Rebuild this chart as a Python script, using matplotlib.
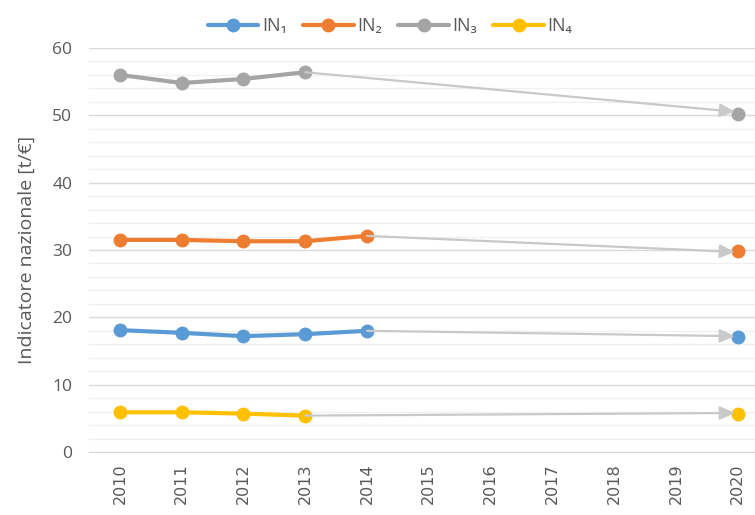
import numpy as np
import matplotlib
matplotlib.use("Agg")
import matplotlib.pyplot as plt

# ================= DATA =================
years = ["2010", "2011", "2012", "2013", "2014", "2015",
         "2016", "2017", "2018", "2019", "2020"]
nan = np.nan
in1 = [18.1, 17.7, 17.2, 17.5, 18.0, nan, nan, nan, nan, nan, 17.1]
in2 = [31.5, 31.5, 31.3, 31.3, 32.1, nan, nan, nan, nan, nan, 29.9]
in3 = [56.0, 54.8, 55.4, 56.4, nan, nan, nan, nan, nan, nan, 50.2]
in4 = [5.9, 5.9, 5.7, 5.4, nan, nan, nan, nan, nan, nan, 5.6]
# where the grey projection arrows land in 2020
arrow_end = [17.2, 29.7, 50.5, 5.8]

labels = ["IN\u2081", "IN\u2082", "IN\u2083", "IN\u2084"]
series = [in1, in2, in3, in4]

# ================= STYLE =================
COLORS = ["#5B9BD5", "#ED7D31", "#A5A5A5", "#FFC000"]
ARROW_COLOR = "#C9C9C9"
TEXT_COLOR = "#595959"
plt.rcParams["font.family"] = ["Open Sans", "DejaVu Sans"]

fig = plt.figure(figsize=(7.55, 5.15), dpi=100)
ax = fig.add_axes([89 / 755, 1 - 452 / 515, 1 - 89 / 755, (452 - 48) / 515])

x = np.arange(len(years))
for vals, col, lab in zip(series, COLORS, labels):
    ax.plot(x, vals, color=col, lw=3.0, marker="o", ms=9, label=lab,
            solid_capstyle="round", zorder=3)

# projection arrows from last known value to 2020
for vals, end in zip(series, arrow_end):
    arr = np.array(vals[:-1], dtype=float)
    last = np.where(~np.isnan(arr))[0][-1]
    ax.annotate("", xy=(x[-1], end), xytext=(x[last], arr[last]),
                arrowprops=dict(arrowstyle="-|>,head_length=0.9,head_width=0.4",
                                color=ARROW_COLOR, lw=1.6,
                                shrinkA=0, shrinkB=2),
                zorder=4)

# axes
ax.set_xlim(-0.5, 10.28)
ax.set_ylim(0, 60)
ax.set_yticks(np.arange(0, 61, 10))
ax.set_yticks(np.arange(0, 61, 2), minor=True)
ax.set_xticks(x)
ax.set_xticklabels(years, rotation=90, fontsize=11.5, color=TEXT_COLOR,
                   family="DejaVu Sans")
ax.tick_params(axis="y", which="both", length=0, labelsize=12.5,
               labelcolor=TEXT_COLOR, pad=12)
ax.tick_params(axis="x", length=0, pad=8)
ax.grid(axis="y", which="major", color="#D9D9D9", lw=1.0, zorder=0)
ax.grid(axis="y", which="minor", color="#F0F0F0", lw=1.0, zorder=0)
for s in ["top", "right", "left"]:
    ax.spines[s].set_visible(False)
ax.spines["bottom"].set_color("#D9D9D9")
ax.set_axisbelow(True)
ax.set_ylabel("Indicatore nazionale [t/\u20ac]", fontsize=14,
              color=TEXT_COLOR, labelpad=12)

leg = fig.legend(loc="center", bbox_to_anchor=(390 / 755, 1 - 26 / 515),
                 ncol=4, frameon=False, fontsize=13, handlelength=2.8,
                 columnspacing=0.9, handletextpad=0.2)
for t in leg.get_texts():
    t.set_color(TEXT_COLOR)

fig.savefig("out.png", dpi=100)
